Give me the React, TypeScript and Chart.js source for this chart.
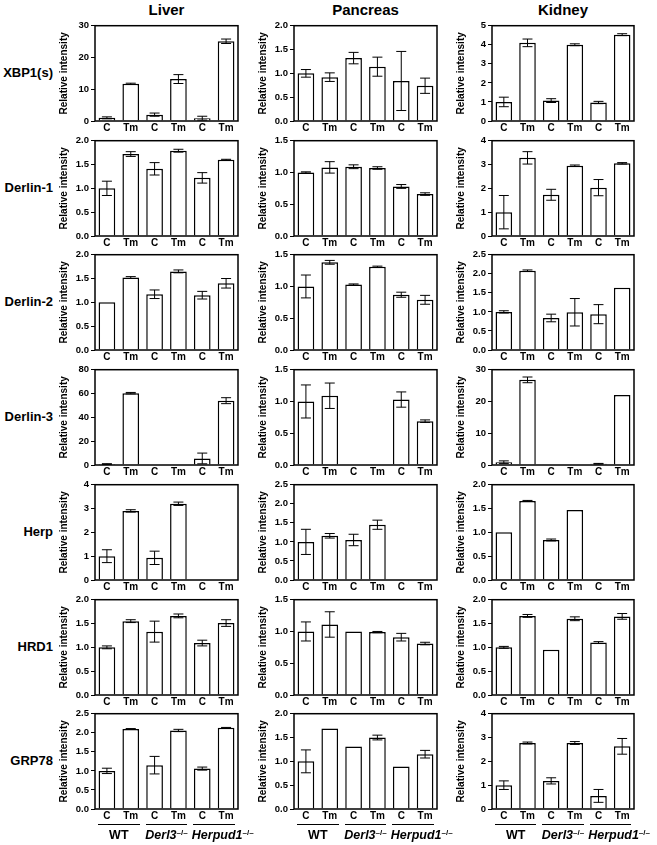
import React, { useEffect, useRef } from "react";
import { Chart, registerables } from "chart.js";

Chart.register(...registerables);

const FONT = '"Liberation Sans", Arial, Helvetica, sans-serif';
Chart.defaults.font.family = FONT;

// ---------- data ----------
const categories = ["C", "Tm", "C", "Tm", "C", "Tm"];
const genotypes = ["WT", "Derl3", "Herpud1"];
const tissues = ["Liver", "Pancreas", "Kidney"];
const proteins = ["XBP1(s)", "Derlin-1", "Derlin-2", "Derlin-3", "Herp", "HRD1", "GRP78"];

const xbp1Liver = [1.0, 11.7, 2.0, 13.2, 0.9, 25.1];
const xbp1LiverErr = [0.3, 0.2, 0.5, 1.4, 0.6, 0.7];
const xbp1Pancreas = [1.0, 0.92, 1.32, 1.14, 0.84, 0.74];
const xbp1PancreasErr = [0.08, 0.09, 0.12, 0.2, 0.62, 0.16];
const xbp1Kidney = [1.0, 4.1, 1.07, 4.0, 0.97, 4.53];
const xbp1KidneyErr = [0.25, 0.2, 0.1, 0.05, 0.06, 0.05];

const derlin1Liver = [1.0, 1.72, 1.41, 1.79, 1.22, 1.6];
const derlin1LiverErr = [0.15, 0.05, 0.13, 0.03, 0.11, 0.01];
const derlin1Pancreas = [1.0, 1.08, 1.09, 1.07, 0.78, 0.66];
const derlin1PancreasErr = [0.01, 0.09, 0.03, 0.02, 0.03, 0.02];
const derlin1Kidney = [1.0, 3.28, 1.73, 2.95, 2.03, 3.05];
const derlin1KidneyErr = [0.7, 0.26, 0.23, 0.03, 0.34, 0.03];

const derlin2Liver = [1.0, 1.52, 1.17, 1.65, 1.15, 1.4];
const derlin2LiverErr = [0, 0.02, 0.09, 0.03, 0.08, 0.1];
const derlin2Pancreas = [1.0, 1.38, 1.03, 1.31, 0.87, 0.79];
const derlin2PancreasErr = [0.18, 0.03, 0.01, 0.01, 0.04, 0.07];
const derlin2Kidney = [1.0, 2.08, 0.84, 0.99, 0.94, 1.63];
const derlin2KidneyErr = [0.03, 0.02, 0.1, 0.36, 0.25, 0];

const derlin3Liver = [0.8, 60.3, null, null, 5.5, 54];
const derlin3LiverErr = [0.3, 0.6, null, null, 4.5, 2.5];
const derlin3Pancreas = [1.0, 1.09, null, null, 1.03, 0.69];
const derlin3PancreasErr = [0.26, 0.2, null, null, 0.12, 0.02];
const derlin3Kidney = [0.9, 26.8, null, null, 0.4, 22.0];
const derlin3KidneyErr = [0.4, 0.9, null, null, 0.1, 0];

const herpLiver = [1.0, 2.9, 0.93, 3.2, null, null];
const herpLiverErr = [0.27, 0.05, 0.28, 0.07, null, null];
const herpPancreas = [1.0, 1.16, 1.05, 1.45, null, null];
const herpPancreasErr = [0.33, 0.06, 0.15, 0.12, null, null];
const herpKidney = [1.0, 1.66, 0.84, 1.47, null, null];
const herpKidneyErr = [0, 0.01, 0.02, 0, null, null];

const hrd1Liver = [1.0, 1.55, 1.33, 1.66, 1.09, 1.51];
const hrd1LiverErr = [0.03, 0.03, 0.22, 0.04, 0.06, 0.07];
const hrd1Pancreas = [1.0, 1.11, 1.0, 0.99, 0.91, 0.81];
const hrd1PancreasErr = [0.15, 0.2, 0, 0.01, 0.06, 0.02];
const hrd1Kidney = [1.0, 1.66, 0.95, 1.6, 1.1, 1.65];
const hrd1KidneyErr = [0.02, 0.03, 0, 0.04, 0.02, 0.06];

const grp78Liver = [1.0, 2.1, 1.15, 2.06, 1.06, 2.13];
const grp78LiverErr = [0.07, 0.01, 0.23, 0.03, 0.04, 0.01];
const grp78Pancreas = [1.0, 1.69, 1.31, 1.5, 0.89, 1.15];
const grp78PancreasErr = [0.24, 0, 0, 0.05, 0, 0.08];
const grp78Kidney = [1.0, 2.77, 1.18, 2.77, 0.55, 2.63];
const grp78KidneyErr = [0.18, 0.04, 0.13, 0.06, 0.27, 0.33];

// y-axis maxima and steps per row: [liver, pancreas, kidney]
const yMaxLiver = [30, 2.0, 2.0, 80, 4, 2.0, 2.5];
const yStepLiver = [10, 0.5, 0.5, 20, 1, 0.5, 0.5];
const yMaxPancreas = [2.0, 1.5, 1.5, 1.5, 2.5, 1.5, 2.0];
const yStepPancreas = [0.5, 0.5, 0.5, 0.5, 0.5, 0.5, 0.5];
const yMaxKidney = [5, 4, 2.5, 30, 2.0, 2.0, 4];
const yStepKidney = [1, 1, 0.5, 10, 0.5, 0.5, 1];

const valueRows = [
  [xbp1Liver, xbp1Pancreas, xbp1Kidney],
  [derlin1Liver, derlin1Pancreas, derlin1Kidney],
  [derlin2Liver, derlin2Pancreas, derlin2Kidney],
  [derlin3Liver, derlin3Pancreas, derlin3Kidney],
  [herpLiver, herpPancreas, herpKidney],
  [hrd1Liver, hrd1Pancreas, hrd1Kidney],
  [grp78Liver, grp78Pancreas, grp78Kidney],
];
const errorRows = [
  [xbp1LiverErr, xbp1PancreasErr, xbp1KidneyErr],
  [derlin1LiverErr, derlin1PancreasErr, derlin1KidneyErr],
  [derlin2LiverErr, derlin2PancreasErr, derlin2KidneyErr],
  [derlin3LiverErr, derlin3PancreasErr, derlin3KidneyErr],
  [herpLiverErr, herpPancreasErr, herpKidneyErr],
  [hrd1LiverErr, hrd1PancreasErr, hrd1KidneyErr],
  [grp78LiverErr, grp78PancreasErr, grp78KidneyErr],
];
const yMaxCols = [yMaxLiver, yMaxPancreas, yMaxKidney];
const yStepCols = [yStepLiver, yStepPancreas, yStepKidney];

// ---------- layout ----------
const PLOT_LEFT = [95, 294, 492];
const PLOT_W = [143, 143, 142];
const PLOT_TOP0 = 24;
const ROW_PITCH = 114.7;
const PLOT_H = 97;
const AXIS_W = 80;
const TITLE_OFFSET = 31;
const PAD_TOP = 6;
const PAD_RIGHT = 4;
const XAXIS_H = 16;

const framePlugin = {
  id: "frame",
  afterDraw(chart: any) {
    const { ctx, chartArea } = chart;
    ctx.save();
    ctx.strokeStyle = "#000";
    ctx.lineWidth = 1.5;
    ctx.strokeRect(chartArea.left, chartArea.top, chartArea.right - chartArea.left, chartArea.bottom - chartArea.top);
    ctx.restore();
  },
};

const errorBarPlugin = {
  id: "errorBars",
  afterDatasetsDraw(chart: any) {
    const { ctx } = chart;
    const ds = chart.data.datasets[0];
    const errs: (number | null)[] = ds.errors || [];
    const meta = chart.getDatasetMeta(0);
    const yScale = chart.scales.y;
    ctx.save();
    ctx.strokeStyle = "#000";
    ctx.lineWidth = 1;
    meta.data.forEach((el: any, i: number) => {
      const v = ds.data[i];
      const e = errs[i];
      if (v == null || e == null || e <= 0) return;
      const yTop = yScale.getPixelForValue(v + e);
      const yBot = yScale.getPixelForValue(Math.max(0, v - e));
      const half = el.width * 0.3;
      ctx.beginPath();
      ctx.moveTo(el.x, yTop);
      ctx.lineTo(el.x, yBot);
      ctx.moveTo(el.x - half, yTop);
      ctx.lineTo(el.x + half, yTop);
      ctx.moveTo(el.x - half, yBot);
      ctx.lineTo(el.x + half, yBot);
      ctx.stroke();
    });
    ctx.restore();
  },
};

function Panel(props: { col: number; row: number }) {
  const { col, row } = props;
  const ref = useRef<HTMLCanvasElement | null>(null);
  const plotTop = Math.round(PLOT_TOP0 + ROW_PITCH * row);
  const left = PLOT_LEFT[col] - AXIS_W;
  const top = plotTop - PAD_TOP;
  const width = AXIS_W + PLOT_W[col] + PAD_RIGHT;
  const height = PAD_TOP + PLOT_H + XAXIS_H;

  useEffect(() => {
    if (!ref.current) return;
    const yMax = yMaxCols[col][row];
    const step = yStepCols[col][row];
    const chart = new Chart(ref.current, {
      type: "bar",
      data: {
        labels: categories,
        datasets: [
          {
            data: valueRows[row][col] as any,
            errors: errorRows[row][col],
            backgroundColor: "#fff",
            borderColor: "#000",
            borderWidth: 1.5,
            barPercentage: 0.7,
            categoryPercentage: 1.0,
          } as any,
        ],
      },
      options: {
        animation: false,
        responsive: false,
        maintainAspectRatio: false,
        events: [],
        layout: { padding: { left: 0, top: PAD_TOP, right: PAD_RIGHT, bottom: 0 } },
        plugins: { legend: { display: false }, tooltip: { enabled: false } },
        scales: {
          x: {
            type: "category",
            grid: { display: false, drawTicks: false, tickLength: 0 },
            border: { display: false },
            ticks: {
              color: "#000",
              font: { size: 10, weight: "bold" },
              padding: 1.5,
              maxRotation: 0,
              autoSkip: false,
            },
            afterFit: (scale: any) => {
              scale.height = XAXIS_H;
            },
          },
          y: {
            min: 0,
            max: yMax,
            grid: { display: true, drawOnChartArea: false, drawTicks: true, tickLength: 4, color: "#000", lineWidth: 1 },
            border: { display: false },
            ticks: {
              stepSize: step,
              color: "#000",
              font: { size: 9.5, weight: "bold" },
              padding: 2,
              callback: (v: any) => (step < 1 ? Number(v).toFixed(1) : String(Math.round(Number(v)))),
            },
            title: {
              display: true,
              text: "Relative intensity",
              color: "#000",
              font: { size: 10, weight: "bold" },
              padding: { top: AXIS_W - TITLE_OFFSET - 6, bottom: 0 },
            },
            afterFit: (scale: any) => {
              scale.width = AXIS_W;
            },
          },
        },
      },
      plugins: [framePlugin, errorBarPlugin],
    } as any);
    return () => chart.destroy();
  }, [col, row]);

  return (
    <canvas
      ref={ref}
      width={width}
      height={height}
      style={{ position: "absolute", left, top, width, height }}
    />
  );
}

export default function App() {
  const lastAxis = Math.round(PLOT_TOP0 + ROW_PITCH * 6) + PLOT_H;
  return (
    <div
      style={{
        position: "absolute",
        left: 0,
        top: 0,
        width: 657,
        height: 845,
        background: "#fff",
        fontFamily: FONT,
        color: "#000",
        overflow: "hidden",
      }}
    >
      {tissues.map((t, i) => (
        <div
          key={t}
          style={{
            position: "absolute",
            left: PLOT_LEFT[i] + PLOT_W[i] / 2 - 70,
            width: 140,
            top: 2,
            textAlign: "center",
            fontWeight: "bold",
            fontSize: 15,
            lineHeight: "15px",
          }}
        >
          {t}
        </div>
      ))}
      {proteins.map((p, r) => {
        const center = Math.round(PLOT_TOP0 + ROW_PITCH * r) + PLOT_H / 2;
        return (
          <div
            key={p}
            style={{
              position: "absolute",
              right: 657 - 53,
              top: center - 8,
              whiteSpace: "nowrap",
              fontWeight: "bold",
              fontSize: 13,
              lineHeight: "16px",
            }}
          >
            {p}
          </div>
        );
      })}
      {proteins.map((p, r) =>
        tissues.map((t, c) => <Panel key={p + t} col={c} row={r} />)
      )}
      {tissues.map((t, c) =>
        genotypes.map((g, k) => {
          const catW = PLOT_W[c] / 6;
          const gStart = PLOT_LEFT[c] + catW * 2 * k;
          const x0 = gStart + 3;
          const x1 = PLOT_LEFT[c] + catW * (2 * k + 2) - 3;
          const cx = (x0 + x1) / 2;
          const labelStyle: React.CSSProperties =
            k === 2
              ? { left: gStart + 1.5, textAlign: "left" }
              : { left: cx - 45, width: 90, textAlign: "center" };
          return (
            <React.Fragment key={t + g}>
              <div
                style={{
                  position: "absolute",
                  left: x0,
                  width: x1 - x0,
                  top: lastAxis + 14.5,
                  height: 1.5,
                  background: "#000",
                }}
              />
              <div
                style={{
                  position: "absolute",
                  top: lastAxis + 19,
                  fontWeight: "bold",
                  fontSize: 12.5,
                  lineHeight: "15px",
                  whiteSpace: "nowrap",
                  ...labelStyle,
                }}
              >
                {g === "WT" ? (
                  g
                ) : (
                  <>
                    <i>{g}</i>
                    <sup style={{ fontSize: 8, verticalAlign: "top", lineHeight: "10px" }}>–/–</sup>
                  </>
                )}
              </div>
            </React.Fragment>
          );
        })
      )}
    </div>
  );
}
